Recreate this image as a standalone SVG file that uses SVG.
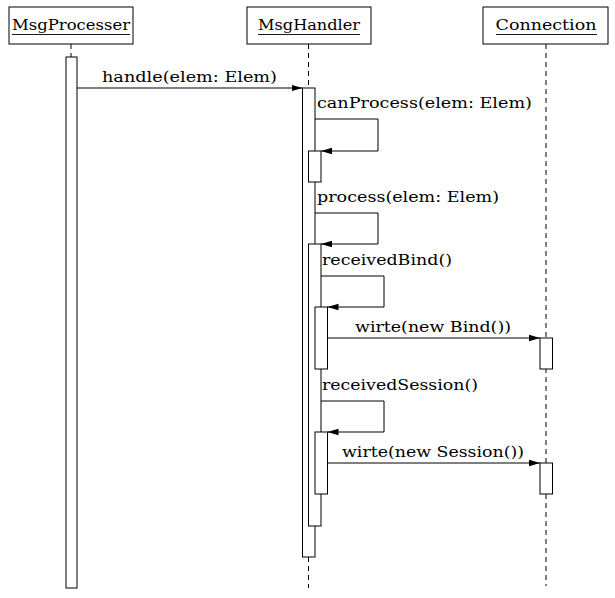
<svg xmlns="http://www.w3.org/2000/svg" width="615" height="598" viewBox="0 0 615 598">
<style>
  .box { fill: #fff; stroke: #000; stroke-width: 1; }
  .life { stroke: #000; stroke-width: 1; stroke-dasharray: 5 4; fill: none; }
  .act { fill: #fff; stroke: #000; stroke-width: 1; }
  .msg { fill: none; stroke: #000; stroke-width: 1; marker-end: url(#arr); }
  .ul { stroke: #000; stroke-width: 0.9; }
</style>
<defs>
  <marker id="arr" markerUnits="userSpaceOnUse" markerWidth="14" markerHeight="10" refX="11" refY="5" orient="auto">
    <path d="M0,1.8 L11,5 L0,8.2 z" fill="#000"/>
  </marker>
</defs>
<rect width="615" height="598" fill="#fff"/>

<g id="lifelines">
  <line class="life" x1="71" y1="44" x2="71" y2="588"/>
  <line class="life" x1="308.5" y1="44" x2="308.5" y2="588"/>
  <line class="life" x1="546" y1="44" x2="546" y2="586"/>
</g>

<g font-family="'DejaVu Serif', 'Liberation Serif', serif" font-size="15" fill="#000">
<g id="MsgProcesser">
  <rect class="box" x="9" y="7" width="124" height="37"/>
  <text x="71" y="30" text-anchor="middle" textLength="118" lengthAdjust="spacingAndGlyphs">MsgProcesser</text>
  <line class="ul" x1="12" y1="34.5" x2="130" y2="34.5"/>
  <rect class="act" x="66" y="57" width="11" height="531"/>
</g>

<g id="MsgHandler">
  <rect class="box" x="247" y="7" width="124" height="37"/>
  <text x="309" y="30" text-anchor="middle" textLength="102" lengthAdjust="spacingAndGlyphs">MsgHandler</text>
  <line class="ul" x1="258" y1="34.5" x2="360" y2="34.5"/>
  <rect class="act" x="302.5" y="88" width="12.5" height="469"/>
  <rect class="act" x="308.5" y="151" width="12.5" height="31"/>
  <rect class="act" x="308.5" y="244" width="12.5" height="282"/>
  <rect class="act" x="315" y="307" width="12.5" height="62"/>
  <rect class="act" x="315" y="432" width="12.5" height="62"/>
</g>

<g id="Connection">
  <rect class="box" x="483" y="7" width="125" height="37"/>
  <text x="546" y="30" text-anchor="middle" textLength="101" lengthAdjust="spacingAndGlyphs">Connection</text>
  <line class="ul" x1="496" y1="34.5" x2="597" y2="34.5"/>
  <rect class="act" x="540" y="338" width="12.5" height="31"/>
  <rect class="act" x="540" y="463" width="12.5" height="31"/>
</g>

<g id="connectors">
  <line class="msg" x1="77" y1="88" x2="302.5" y2="88"/>
  <text x="102" y="82" textLength="175" lengthAdjust="spacingAndGlyphs">handle(elem: Elem)</text>

  <polyline class="msg" points="315,119 378,119 378,151 321,151"/>
  <text x="317" y="108" textLength="215" lengthAdjust="spacingAndGlyphs">canProcess(elem: Elem)</text>

  <polyline class="msg" points="315,213 378,213 378,244 321,244"/>
  <text x="317" y="202" textLength="182" lengthAdjust="spacingAndGlyphs">process(elem: Elem)</text>

  <polyline class="msg" points="321,276 384,276 384,307 327.5,307"/>
  <text x="322" y="265" textLength="130" lengthAdjust="spacingAndGlyphs">receivedBind()</text>

  <line class="msg" x1="327.5" y1="338" x2="540" y2="338"/>
  <text x="355" y="332" textLength="156" lengthAdjust="spacingAndGlyphs">wirte(new Bind())</text>

  <polyline class="msg" points="321,401 384,401 384,432 327.5,432"/>
  <text x="322" y="390" textLength="156" lengthAdjust="spacingAndGlyphs">receivedSession()</text>

  <line class="msg" x1="327.5" y1="463" x2="540" y2="463"/>
  <text x="342" y="457" textLength="182" lengthAdjust="spacingAndGlyphs">wirte(new Session())</text>
</g>
</g>
</svg>
